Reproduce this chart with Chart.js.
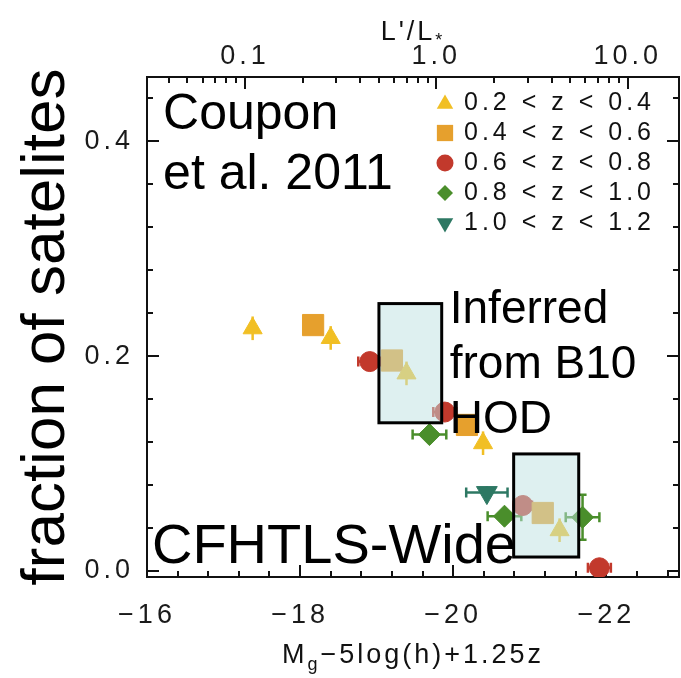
<!DOCTYPE html>
<html>
<head>
<meta charset="utf-8">
<script src="https://cdn.jsdelivr.net/npm/chart.js@4.4.0/dist/chart.umd.min.js"></script>
<style>
  html, body { margin: 0; padding: 0; background: #fff; }
  #wrap { width: 681px; height: 678px; }
</style>
</head>
<body>
<div id="wrap"><canvas id="sat" width="681" height="678"></canvas></div>
<script>
// redshift slices (legend text)
const zLabels = ['0.2 < z < 0.4', '0.4 < z < 0.6', '0.6 < z < 0.8', '0.8 < z < 1.0', '1.0 < z < 1.2'];

// M_g - 5log(h) + 1.25z  /  satellite fraction, per slice
const magZ1 = [-17.38, -18.40, -19.39, -20.39, -21.39];
const fracZ1 = [0.226, 0.217, 0.184, 0.119, 0.038];
const xerrZ1 = [0, 0, 0, 0, 0];
const yerrZ1 = [0.011, 0.011, 0.011, 0.011, 0.011];

const magZ2 = [-18.17, -19.20, -20.18, -21.17];
const fracZ2 = [0.229, 0.196, 0.136, 0.054];
const xerrZ2 = [0, 0, 0, 0];
const yerrZ2 = [0, 0, 0, 0];

const magZ3 = [-18.91, -19.89, -20.91, -21.91];
const fracZ3 = [0.195, 0.148, 0.061, 0.003];
const xerrZ3 = [0.15, 0.15, 0.12, 0.15];
const yerrZ3 = [0, 0, 0, 0];

const magZ4 = [-19.69, -20.67, -21.69];
const fracZ4 = [0.127, 0.051, 0.050];
const xerrZ4 = [0.22, 0.22, 0.22];
const yerrZ4 = [0.008, 0.008, 0.021];

const magZ5 = [-20.44];
const fracZ5 = [0.073];
const xerrZ5 = [0.27];
const yerrZ5 = [0.006];

// "Inferred from B10 HOD" boxes: [magBright, magFaint, fracLow, fracHigh]
const hodBoxes = [
  [-19.85, -19.03, 0.138, 0.249],
  [-21.64, -20.79, 0.013, 0.109]
];

// tick labels
const magTickLabels = [-16, -18, -20, -22];
const fracTickLabels = [0.0, 0.2, 0.4];
const lumTickLabels = [0.1, 1.0, 10.0];

const mStar = -19.78;   // where L'/L* = 1
const xMin = -22.95, xMax = -16;
const yMin = -0.0056, yMax = 0.46;

const fontFam = "'Liberation Sans', Arial, Helvetica, sans-serif";
const colors = ['#F1BF24', '#E6A02D', '#C2392C', '#4A8E2B', '#2D7863'];

function pts(m, f) { return m.map((v, i) => ({ x: v, y: f[i] })); }

// tick lists
const magTicks = [];
for (let i = 0; i <= 17; i++) {
  const v = Math.round((-16 - 0.4 * i) * 10) / 10;
  magTicks.push({ value: v, big: magTickLabels.includes(v) });
}
const fracTicks = [];
for (let i = 0; i <= 11; i++) {
  const v = Math.round(0.04 * i * 100) / 100;
  fracTicks.push({ value: v, big: fracTickLabels.some(t => Math.abs(t - v) < 1e-6) });
}
const lumTicks = [];
[0.01, 0.1, 1, 10].forEach(dec => {
  for (let k = 1; k <= 9; k++) {
    const L = dec * k;
    const m = mStar - 2.5 * Math.log10(L);
    if (m <= xMax && m >= xMin) lumTicks.push({ value: m, lum: L, big: lumTickLabels.some(t => Math.abs(t - L) < 1e-9) });
  }
});

function marker(ctx, style, x, y, r) {
  ctx.beginPath();
  if (style === 'circle') {
    ctx.arc(x, y, r, 0, Math.PI * 2);
  } else if (style === 'rect') {
    const s = r * Math.SQRT1_2;
    ctx.rect(x - s, y - s, 2 * s, 2 * s);
  } else if (style === 'rectRot') {
    ctx.moveTo(x, y - r); ctx.lineTo(x + r, y); ctx.lineTo(x, y + r); ctx.lineTo(x - r, y);
  } else if (style === 'triangle') {
    ctx.moveTo(x, y - r);
    ctx.lineTo(x + r * 0.866, y + r * 0.5);
    ctx.lineTo(x - r * 0.866, y + r * 0.5);
  } else if (style === 'down') {
    ctx.moveTo(x, y + r);
    ctx.lineTo(x + r * 0.866, y - r * 0.5);
    ctx.lineTo(x - r * 0.866, y - r * 0.5);
  }
  ctx.closePath();
  ctx.fill();
}

// keep the plot box fixed: no extra padding from tick label overhang
function fixBox(size, key) {
  return s => {
    s[key] = size;
    s.paddingLeft = 0; s.paddingRight = 0; s.paddingTop = 0; s.paddingBottom = 0;
  };
}

const spacingPlugin = {
  id: 'spacing',
  beforeDraw(chart) { chart.ctx.letterSpacing = '4px'; },
  beforeDatasetsDraw(chart) { chart.ctx.letterSpacing = '0px'; }
};

// inward tick marks + error bars
const innerTicks = {
  id: 'innerTicks',
  beforeDatasetsDraw(chart) {
    const ctx = chart.ctx, a = chart.chartArea;
    const sx = chart.scales.x, st = chart.scales.x2, sy = chart.scales.y;
    ctx.save();
    ctx.strokeStyle = '#111';
    ctx.lineWidth = 2;
    ctx.beginPath();
    magTicks.forEach(t => {
      const p = Math.round(sx.getPixelForValue(t.value));
      const len = t.big ? 12 : 6;
      ctx.moveTo(p, a.bottom); ctx.lineTo(p, a.bottom - len);
    });
    lumTicks.forEach(t => {
      const p = Math.round(st.getPixelForValue(t.value));
      const len = t.big ? 12 : 6;
      ctx.moveTo(p, a.top); ctx.lineTo(p, a.top + len);
    });
    fracTicks.forEach(t => {
      const p = Math.round(sy.getPixelForValue(t.value));
      const len = t.big ? 12 : 6;
      ctx.moveTo(a.left, p); ctx.lineTo(a.left + len, p);
      ctx.moveTo(a.right, p); ctx.lineTo(a.right - len, p);
    });
    ctx.stroke();

    // error bars
    chart.data.datasets.forEach(ds => {
      ctx.strokeStyle = ds.backgroundColor;
      ctx.lineWidth = 2.5;
      ds.data.forEach((d, i) => {
        const px = sx.getPixelForValue(d.x), py = sy.getPixelForValue(d.y);
        const ex = ds.xErr[i], ey = ds.yErr[i];
        ctx.beginPath();
        if (ex > 0) {
          const x0 = sx.getPixelForValue(d.x - ex), x1 = sx.getPixelForValue(d.x + ex);
          ctx.moveTo(x0, py); ctx.lineTo(x1, py);
          ctx.moveTo(x0, py - 5); ctx.lineTo(x0, py + 5);
          ctx.moveTo(x1, py - 5); ctx.lineTo(x1, py + 5);
        }
        if (ey > 0) {
          const y0 = sy.getPixelForValue(d.y - ey), y1 = sy.getPixelForValue(d.y + ey);
          ctx.moveTo(px, y0); ctx.lineTo(px, y1);
          if (ey > 0.015) {
            ctx.moveTo(px - 4, y0); ctx.lineTo(px + 4, y0);
            ctx.moveTo(px - 4, y1); ctx.lineTo(px + 4, y1);
          }
        }
        ctx.stroke();
      });
    });
    ctx.restore();
  }
};

const overlays = {
  id: 'overlays',
  afterDatasetsDraw(chart) {
    const ctx = chart.ctx, a = chart.chartArea;
    const sx = chart.scales.x, sy = chart.scales.y;
    ctx.save();
    ctx.letterSpacing = '0px';
    ctx.fillStyle = '#000';
    ctx.textAlign = 'left';
    ctx.textBaseline = 'alphabetic';

    const put = (txt, m, f, size) => {
      ctx.font = size + 'px ' + fontFam;
      ctx.fillText(txt, sx.getPixelForValue(m), sy.getPixelForValue(f));
    };
    put('Coupon', -16.21, 0.412, 50);
    put('et al. 2011', -16.21, 0.356, 50);
    put('Inferred', -19.955, 0.2307, 46);
    put('from B10', -19.955, 0.1795, 46);
    put('HOD', -19.955, 0.1284, 46);
    put('CFHTLS-Wide', -16.065, 0.0074, 56);

    // HOD boxes on top (semi-transparent)
    hodBoxes.forEach(b => {
      const x0 = sx.getPixelForValue(b[1]), x1 = sx.getPixelForValue(b[0]);
      const y0 = sy.getPixelForValue(b[3]), y1 = sy.getPixelForValue(b[2]);
      ctx.fillStyle = 'rgba(189,225,226,0.5)';
      ctx.fillRect(x0, y0, x1 - x0, y1 - y0);
      ctx.strokeStyle = '#000';
      ctx.lineWidth = 3;
      ctx.strokeRect(x0, y0, x1 - x0, y1 - y0);
    });

    // legend
    const styles = ['triangle', 'rect', 'circle', 'rectRot', 'down'];
    const sizes = [9.5, 11.5, 8.5, 8, 9.5];
    ctx.font = '25px ' + fontFam;
    ctx.letterSpacing = '4px';
    ctx.textBaseline = 'middle';
    chart.data.datasets.forEach((ds, i) => {
      const yy = a.top + 26 + i * 30;
      ctx.fillStyle = ds.backgroundColor;
      marker(ctx, styles[i], a.right - 234, yy + (i === 0 ? 1 : 0), sizes[i]);
      ctx.fillStyle = '#111';
      ctx.fillText(ds.label, a.right - 215, yy);
    });
    ctx.restore();
  },
  afterDraw(chart) {
    const ctx = chart.ctx, a = chart.chartArea;
    const cx = (a.left + a.right) / 2;
    ctx.save();
    ctx.fillStyle = '#111';
    ctx.textBaseline = 'alphabetic';
    ctx.textAlign = 'left';
    ctx.letterSpacing = '3px';

    // bottom title: M_g-5log(h)+1.25z
    ctx.font = '27px ' + fontFam;
    const t1 = 'M', t2 = '\u22125log(h)+1.25z';
    const w1 = ctx.measureText(t1).width, w3 = ctx.measureText(t2).width;
    ctx.font = '18px ' + fontFam;
    const w2 = ctx.measureText('g').width;
    let x = cx - (w1 + w2 + w3) / 2;
    const by = 663;
    ctx.font = '27px ' + fontFam;
    ctx.fillText(t1, x, by); x += w1;
    ctx.font = '18px ' + fontFam;
    ctx.fillText('g', x, by + 7); x += w2;
    ctx.font = '27px ' + fontFam;
    ctx.fillText(t2, x, by);

    // top title: L'/L*
    const u1 = "L'/L";
    const uw1 = ctx.measureText(u1).width;
    ctx.font = '18px ' + fontFam;
    const uw2 = ctx.measureText('*').width;
    x = cx - (uw1 + uw2) / 2;
    ctx.font = '27px ' + fontFam;
    ctx.fillText(u1, x, 40);
    ctx.font = '18px ' + fontFam;
    ctx.fillText('*', x + uw1, 46);

    // y title
    ctx.letterSpacing = '0px';
    ctx.font = '62px ' + fontFam;
    ctx.fillStyle = '#000';
    ctx.translate(64, (a.top + a.bottom) / 2);
    ctx.rotate(-Math.PI / 2);
    ctx.textAlign = 'center';
    ctx.fillText('fraction of satelites', 0, 0);
    ctx.restore();
  }
};

const tickFont = { family: fontFam, size: 27 };

new Chart(document.getElementById('sat'), {
  type: 'scatter',
  data: {
    datasets: [
      { label: zLabels[0], data: pts(magZ1, fracZ1), xErr: xerrZ1, yErr: yerrZ1,
        pointStyle: 'triangle', pointRadius: 11, backgroundColor: colors[0], borderColor: colors[0], borderWidth: 1 },
      { label: zLabels[1], data: pts(magZ2, fracZ2), xErr: xerrZ2, yErr: yerrZ2,
        pointStyle: 'rect', pointRadius: 15, backgroundColor: colors[1], borderColor: colors[1], borderWidth: 1 },
      { label: zLabels[2], data: pts(magZ3, fracZ3), xErr: xerrZ3, yErr: yerrZ3,
        pointStyle: 'circle', pointRadius: 10, backgroundColor: colors[2], borderColor: colors[2], borderWidth: 1 },
      { label: zLabels[3], data: pts(magZ4, fracZ4), xErr: xerrZ4, yErr: yerrZ4,
        pointStyle: 'rectRot', pointRadius: 11, backgroundColor: colors[3], borderColor: colors[3], borderWidth: 1 },
      { label: zLabels[4], data: pts(magZ5, fracZ5), xErr: xerrZ5, yErr: yerrZ5,
        pointStyle: 'triangle', rotation: 180, pointRadius: 12, backgroundColor: colors[4], borderColor: colors[4], borderWidth: 1 }
    ]
  },
  options: {
    responsive: false,
    devicePixelRatio: 1,
    animation: false,
    events: [],
    layout: { padding: 0, autoPadding: false },
    clip: 0,
    plugins: { legend: { display: false }, tooltip: { enabled: false } },
    scales: {
      x: {
        type: 'linear', position: 'bottom', reverse: true, min: xMin, max: xMax,
        afterBuildTicks: s => { s.ticks = magTicks.map(t => ({ ...t })); },
        afterFit: fixBox(101, 'height'),
        grid: { display: false, drawTicks: false },
        border: { display: true, color: '#111', width: 2 },
        ticks: {
          autoSkip: false, maxRotation: 0, padding: 22, color: '#1a1a1a', font: tickFont,
          callback: (v, i, ticks) => ticks[i].big ? '\u2212' + Math.abs(v) : ''
        }
      },
      x2: {
        type: 'linear', position: 'top', reverse: true, min: xMin, max: xMax,
        afterBuildTicks: s => { s.ticks = lumTicks.map(t => ({ ...t })); },
        afterFit: fixBox(77, 'height'),
        grid: { display: false, drawTicks: false },
        border: { display: true, color: '#111', width: 2 },
        ticks: {
          autoSkip: false, maxRotation: 0, padding: 4, color: '#1a1a1a', font: tickFont,
          callback: (v, i, ticks) => ticks[i].big ? ticks[i].lum.toFixed(1) : ''
        }
      },
      y: {
        type: 'linear', position: 'left', min: yMin, max: yMax,
        afterBuildTicks: s => { s.ticks = fracTicks.map(t => ({ ...t })); },
        afterFit: fixBox(147, 'width'),
        grid: { display: false, drawTicks: false },
        border: { display: true, color: '#111', width: 2 },
        ticks: {
          autoSkip: false, padding: 13, color: '#1a1a1a', font: tickFont,
          callback: (v, i, ticks) => ticks[i].big ? v.toFixed(1) : ''
        }
      },
      y2: {
        type: 'linear', position: 'right', min: yMin, max: yMax,
        afterFit: fixBox(2, 'width'),
        grid: { display: false, drawTicks: false },
        border: { display: true, color: '#111', width: 2 },
        ticks: { display: false }
      }
    }
  },
  plugins: [spacingPlugin, innerTicks, overlays]
});
</script>
</body>
</html>
